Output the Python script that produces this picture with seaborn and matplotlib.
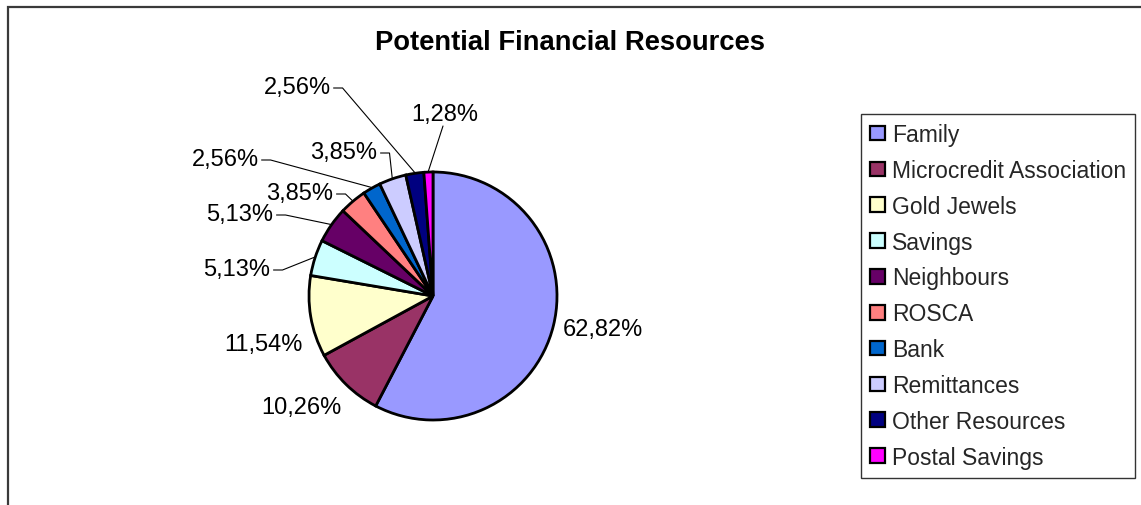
import matplotlib
matplotlib.use("Agg")
import matplotlib.pyplot as plt
import matplotlib.patches as mpatches
import numpy as np
import seaborn as sns

# Data: share of respondents citing each potential financial resource (%)
categories = ["Family", "Microcredit Association", "Gold Jewels", "Savings",
              "Neighbours", "ROSCA", "Bank", "Remittances",
              "Other Resources", "Postal Savings"]
shares = [62.82, 10.26, 11.54, 5.13, 5.13, 3.85, 2.56, 3.85, 2.56, 1.28]
label_texts = [f"{v:.2f}".replace(".", ",") + "%" for v in shares]

colors = ["#9999FF", "#993366", "#FFFFCC", "#CCFFFF", "#660066",
          "#FF8080", "#0066CC", "#CCCCFF", "#000080", "#FF00FF"]

# Layout (pixel coordinates, y measured from the top of the figure)
W, H = 1141, 506
CENTER = (433, 297)
RADIUS = 124
label_pos = [(603, 330), (301, 408), (263, 345), (237, 270), (240, 215),
             (300, 194), (225, 160), (344, 153), (297, 88), (445, 115)]
# leader style per label: None, "side" (elbow from right edge) or "below"
leader = [None, None, None, "side", "side", "side", "side", "side", "side", "below"]
FS = 17
LEGEND_FS = 16.5

sns.set_theme(style="white")
plt.rcParams["font.family"] = ["Liberation Sans", "DejaVu Sans"]


def px(x, y):
    return x, H - y


fig = plt.figure(figsize=(W / 100, H / 100), dpi=100)
fig.patch.set_facecolor("white")
ax = fig.add_axes([0, 0, 1, 1])

wedges, _ = ax.pie(shares, colors=colors, startangle=90, counterclock=False,
                   center=px(*CENTER), radius=RADIUS,
                   wedgeprops=dict(edgecolor="black", linewidth=2.0))
ax.set_xlim(0, W)
ax.set_ylim(0, H)
ax.set_aspect("equal")
ax.axis("off")

# Chart area border (runs past the right and bottom edges)
ax.add_patch(mpatches.Rectangle(px(8, 600), 1300, 592, fill=False,
                                edgecolor="#3a3a3a", linewidth=1.6,
                                clip_on=True))

fig.text(570 / W, 1 - 43 / H, "Potential Financial Resources",
         ha="center", va="center", fontsize=19.7, fontweight="bold",
         color="black")

fig.canvas.draw()
renderer = fig.canvas.get_renderer()
inv = ax.transData.inverted()

for w, txt, pos, mode in zip(wedges, label_texts, label_pos, leader):
    t = ax.text(*px(*pos), txt, ha="center", va="center", fontsize=FS,
                color="black")
    if mode is None:
        continue
    mid = np.deg2rad((w.theta1 + w.theta2) / 2)
    cx, cy = w.center
    ax_x = cx + (w.r + 1) * np.cos(mid)
    ax_y = cy + (w.r + 1) * np.sin(mid)
    bb = t.get_window_extent(renderer)
    (x0, y0), (x1, y1) = inv.transform([(bb.x0, bb.y0), (bb.x1, bb.y1)])
    if mode == "side":
        sx, sy = x1 + 3, (y0 + y1) / 2 - 1
        xs = [sx, sx + 9, ax_x]
        ys = [sy, sy, ax_y]
    else:
        sx, sy = (x0 + x1) / 2 - 2, y0 - 1
        xs = [sx, ax_x]
        ys = [sy, ax_y]
    ax.plot(xs, ys, color="black", linewidth=0.8, solid_joinstyle="miter")

leg = ax.legend(wedges, categories, loc="upper left",
                bbox_to_anchor=(861 / W, 1 - 115 / H),
                bbox_transform=fig.transFigure, fontsize=LEGEND_FS,
                frameon=True, fancybox=False, shadow=False,
                handlelength=0.64, handleheight=0.6, handletextpad=0.3,
                labelspacing=0.56, borderpad=0.4, borderaxespad=0)
leg.get_frame().set_edgecolor("black")
leg.get_frame().set_linewidth(1.0)
leg.get_frame().set_facecolor("white")
for h in leg.legend_handles:
    h.set_linewidth(1.6)

fig.savefig("out.png", dpi=100, facecolor="white")
